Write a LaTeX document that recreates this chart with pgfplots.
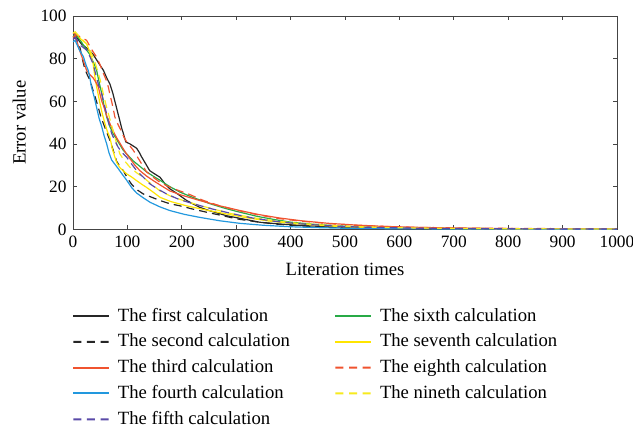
\documentclass[border=0pt]{standalone}
\usepackage{pgfplots}
\pgfplotsset{compat=1.18}
\usepackage{fontspec}
\setmainfont{Liberation Serif}
\definecolor{cblack}{RGB}{38,38,38}
\definecolor{cred}{RGB}{240,83,47}
\definecolor{cblue}{RGB}{34,152,222}
\definecolor{cpurple}{RGB}{90,74,168}
\definecolor{cgreen}{RGB}{40,170,70}
\definecolor{cyellow}{RGB}{255,229,0}
\definecolor{cyellowd}{RGB}{247,234,30}
\definecolor{cbox}{RGB}{68,68,68}
\begin{document}
\fontsize{14}{16}\selectfont
\begin{tikzpicture}
\begin{axis}[
  scale only axis,
  width=408pt, height=160pt,
  xmin=0, xmax=1000, ymin=0, ymax=100,
  xtick={0,100,...,1000}, ytick={0,20,...,100},
  tick align=inside,
  major tick length=3pt,
  tick style={cbox, line width=0.5pt},
  axis line style={cbox, line width=0.6pt},
  /pgf/number format/assume math mode=true,
  /pgf/number format/1000 sep={},
  tick label style={font=\fontsize{13}{15}\selectfont},
  xlabel={Literation times},
  ylabel={Error value},
  xlabel style={at={(axis description cs:0.5,-0.19)}, anchor=center},
  ylabel style={at={(axis description cs:-0.099,0.5)}, anchor=center},
  legend columns=2,
  legend cell align=left,
  legend style={at={(axis description cs:0,-0.355)}, anchor=north west,
    draw=none, inner sep=0pt,
    row sep=3.5pt,
    /tikz/column 1/.style={column sep=5pt},
    /tikz/column 2/.style={column sep=32pt},
    /tikz/column 3/.style={column sep=5pt}},
  solidimg/.style={legend image code/.code={\fill[draw=none, fill=#1] (0pt,-0.75pt) rectangle (26.5pt,0.75pt);}},
  dashimg/.style={legend image code/.code={\fill[draw=none, fill=#1] (0pt,-0.75pt) rectangle (6pt,0.75pt) (10.25pt,-0.75pt) rectangle (16.25pt,0.75pt) (20.5pt,-0.75pt) rectangle (26.5pt,0.75pt);}},
  every axis plot/.append style={line width=0.9pt},
  dsh/.style={dash pattern=on 6pt off 3.8pt},
]
% 1 first
\addplot[color=cblack, solidimg=cblack] coordinates {(0,90) (4,91) (15,87) (25,85) (37,82) (47,78) (56,74.5) (62,71) (68,68) (73,64) (77,60) (82,55) (86,51) (90,47) (92.5,45) (97,41) (105,40) (111,39) (117,38) (122,36) (126,34) (133,31) (141,27.5) (150,26) (160,24.4) (170,21) (178,19) (190,17) (209,13.5) (220,12) (233,10.3) (250,8.8) (282,6.4) (310,5) (344,3.3) (380,2.5) (420,1.8) (470,1.2) (520,0.8) (580,0.5) (650,0.3) (750,0.15) (850,0.1) (1000,0.05)};
\addlegendentry{The first calculation}
% 6 sixth
\addplot[color=cgreen, solidimg=cgreen] coordinates {(0,90) (4,91.7) (15,88) (25,84) (31,82) (38,78) (43.5,74.5) (48,69) (53,63.5) (57,58) (62,52.6) (68,48) (74,44.8) (83,41) (92.5,37) (100,35) (111,32) (123,29.5) (135,27) (147,25) (160,23) (178,20) (197,17.4) (220,15) (252,12) (280,9.8) (307,8) (340,6) (370,4.6) (399,3.4) (440,2.4) (503,1.4) (550,1) (600,0.7) (650,0.5) (700,0.4) (800,0.3) (900,0.25) (1000,0.2)};
\addlegendentry{The sixth calculation}
% 2 second
\addplot[color=cblack, dsh, dashimg=cblack] coordinates {(0,89) (4,90) (13,85) (18,79) (22,75) (27,72) (31,70) (37,65) (42,61) (46.6,57) (51,53) (56,49.5) (62,45.5) (68,41.6) (74,37) (80,32) (86,29.5) (92.5,27.5) (100,24) (108,21) (118,18.5) (129,16.6) (145,15) (160,13.5) (178,12) (197,11) (220,9.5) (246,8) (275,6.4) (301,4.9) (340,3.4) (380,2.3) (420,1.6) (470,1) (520,0.7) (600,0.4) (700,0.2) (850,0.1) (1000,0.05)};
\addlegendentry{The second calculation}
% 7 seventh
\addplot[color=cyellow, solidimg=cyellow] coordinates {(0,92) (4,92.5) (15,89) (25,87) (31,83) (37,77.6) (40,72) (43.5,66.7) (46.5,63) (49.6,59) (54,54) (58.8,49.5) (63,46) (68,43) (72,38) (77,33.8) (81,31) (86,29) (92,27.5) (98.7,26) (108,24.5) (117,22.8) (126,21.2) (135,19.7) (147,17.5) (160,15) (180,13) (209,11) (240,9.3) (282,7.2) (320,5.4) (360,3.9) (400,2.8) (450,1.9) (500,1.2) (560,0.8) (620,0.5) (700,0.3) (850,0.15) (1000,0.1)};
\addlegendentry{The seventh calculation}
% 3 third
\addplot[color=cred, solidimg=cred] coordinates {(0,90) (4,91) (12,84) (19,79) (25,74.5) (31,72.5) (37,71) (42,69) (46.6,66.7) (50,63) (53,60) (56,58) (59,55.7) (63,52.5) (68,49.5) (74,46) (80,43) (86,40.5) (92.5,37.7) (98,35.5) (105,33) (114,30) (123,27.5) (135,25) (147.7,22.8) (162,20.5) (178,18) (200,16) (233,13.5) (270,11) (307,8.8) (340,7) (380,5.3) (420,4) (470,2.8) (520,2) (570,1.4) (620,1) (700,0.6) (800,0.35) (900,0.25) (1000,0.2)};
\addlegendentry{The third calculation}
% 8 eighth
\addplot[color=cred, dsh, dashimg=cred] coordinates {(0,92) (4,91.5) (15,90) (25,88.6) (35,84) (43.5,80.7) (50,77) (56,73) (61,70) (65,66.7) (68,63) (71,60) (74,56.5) (77,52.6) (83,49) (89,46) (94,43) (98.7,41) (105,39) (111,37) (117,34.5) (123,32) (129,29.5) (135,27) (147,24.5) (160,22) (180,19.5) (203,17.4) (212,16.6) (240,13.5) (270,11) (300,9) (340,6.8) (380,5) (420,3.8) (470,2.7) (520,1.9) (580,1.3) (640,0.9) (720,0.6) (820,0.4) (920,0.3) (1000,0.25)};
\addlegendentry{The eighth calculation}
% 4 fourth
\addplot[color=cblue, solidimg=cblue] coordinates {(0,88) (4,88.5) (12,84) (19,81) (24,77) (28,74.5) (31,71) (34,66.7) (39,62) (43.5,57) (48,52) (53,48) (57,44) (62,40) (66,36) (71,32.5) (77,30.5) (83,28.5) (90,26) (98.7,23) (108,19.5) (117,17) (129,14.8) (141.5,12.7) (160,10.5) (178,8.8) (205,7) (233,5.6) (270,4) (307,2.8) (350,1.9) (400,1.2) (450,0.8) (500,0.5) (580,0.3) (700,0.15) (850,0.08) (1000,0.05)};
\addlegendentry{The fourth calculation}
% 9 nineth
\addplot[color=cyellowd, dsh, dashimg=cyellowd] coordinates {(0,92) (4,92.5) (15,89.5) (25,87) (31,84) (37,80.7) (42,77) (46.6,73) (50,70) (53,66.7) (57,62) (62,57) (68,51.5) (74,46) (80,40.5) (86,35.4) (95,32) (105,29) (117,26.5) (129,24.4) (145,21) (160,18) (180,15.5) (203,13.5) (230,11.4) (258,9.5) (290,7.4) (330,5.5) (370,4) (410,2.9) (460,2) (510,1.4) (570,0.9) (640,0.6) (720,0.4) (820,0.25) (1000,0.15)};
\addlegendentry{The nineth calculation}
% 5 fifth
\addplot[color=cpurple, dsh, dashimg=cpurple] coordinates {(0,89) (4,90) (15,86) (25,84) (31,81) (37,77.6) (42,72.5) (46.6,68) (50,65.5) (53,63.5) (57,59) (62,54) (66,49.5) (71,45) (77,41.5) (83,38.5) (90,36) (98.7,33.8) (108,30.5) (117,27.5) (129,24.5) (141.5,21.3) (155,19) (172,16.6) (195,14) (221,12) (255,9.6) (295,7.2) (330,5.3) (370,3.8) (410,2.7) (460,1.8) (510,1.2) (570,0.8) (640,0.5) (750,0.3) (900,0.15) (1000,0.1)};
\addlegendentry{The fifth calculation}
\draw[white!85!black, line width=0.6pt] (rel axis cs:1,0) -- (rel axis cs:1,1);
\end{axis}
\pgfresetboundingbox
\path (-54.75pt,-150.75pt) rectangle (420pt,172pt);
\end{tikzpicture}
\end{document}
